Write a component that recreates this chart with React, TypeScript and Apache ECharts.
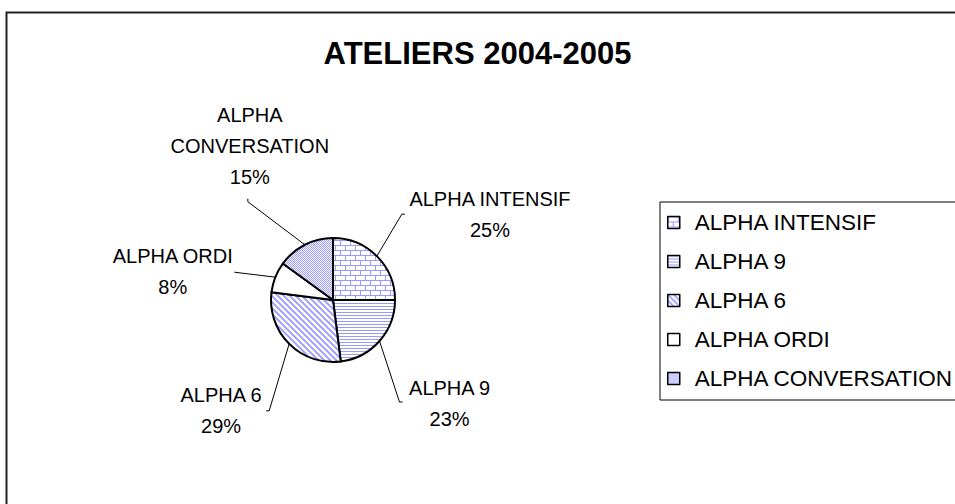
import React, { useEffect, useRef } from "react";
import * as echarts from "echarts";

// ---- data ----
const categories = ["ALPHA INTENSIF", "ALPHA 9", "ALPHA 6", "ALPHA ORDI", "ALPHA CONVERSATION"];
const labelTexts = ["ALPHA INTENSIF", "ALPHA 9", "ALPHA 6", "ALPHA ORDI", "ALPHA\nCONVERSATION"];
const values = [25, 23, 29, 8, 15];
const titleText = "ATELIERS 2004-2005";

// ---- styling ----
const FONT = "'Liberation Sans', Arial, sans-serif";
const HATCH = "#9999FF";

function svgUrl(w: number, h: number, body: string) {
  const s = `<svg xmlns='http://www.w3.org/2000/svg' width='${w}' height='${h}' shape-rendering='crispEdges'><rect width='${w}' height='${h}' fill='white'/>${body}</svg>`;
  return "data:image/svg+xml;charset=utf-8," + encodeURIComponent(s);
}
function pattern(w: number, h: number, body: string) {
  return { image: svgUrl(w, h, body), repeat: "repeat", imageWidth: w, imageHeight: h } as any;
}

const fills = [
  // brick
  pattern(10, 10,
    `<rect x='0' y='0' width='10' height='1' fill='${HATCH}'/><rect x='0' y='5' width='10' height='1' fill='${HATCH}'/>` +
    `<rect x='0' y='0' width='1' height='5' fill='${HATCH}'/><rect x='5' y='5' width='1' height='5' fill='${HATCH}'/>`),
  // horizontal lines
  pattern(4, 3, `<rect x='0' y='0' width='4' height='1' fill='${HATCH}'/>`),
  // diagonal lines
  null,
  "#FFFFFF",
  // fine checker
  pattern(2, 2, `<rect x='0' y='0' width='1' height='1' fill='${HATCH}'/><rect x='1' y='1' width='1' height='1' fill='${HATCH}'/>`),
] as any[];
fills[2] = {
  image:
    "data:image/svg+xml;charset=utf-8," +
    encodeURIComponent(
      `<svg xmlns='http://www.w3.org/2000/svg' width='6' height='6'><rect width='6' height='6' fill='white'/>` +
        `<path d='M-1,-1 L7,7 M-1,5 L1,7 M5,-1 L7,1' stroke='${HATCH}' stroke-width='1.8' fill='none'/></svg>`
    ),
  repeat: "repeat",
  imageWidth: 6,
  imageHeight: 6,
};

// label placement: line end offset from arc point, label side, gap, vertical shift
const LABEL_LAYOUT = [
  { dx: 25, dy: -42, side: "right", gap: 4, vy: 0, tick: [3, 0] },
  { dx: 20, dy: 61, side: "right", gap: 6, vy: 1, tick: [3, 0] },
  { dx: -20, dy: 67, side: "left", gap: 4, vy: 0, tick: [-3, 0] },
  { dx: -41, dy: -5, side: "left", gap: 1, vy: -1, tick: [0, 0] },
  { dx: -57, dy: -43, side: "top", gap: 2, vy: 0, tick: [0, -3] },
];

export default function App() {
  const ref = useRef<HTMLDivElement>(null);
  useEffect(() => {
    if (!ref.current) return;
    const chart = echarts.init(ref.current, undefined, { renderer: "svg" });
    const option: any = {
      animation: false,
      backgroundColor: "#FFFFFF",
      title: {
        text: titleText,
        left: "center",
        top: 33,
        textStyle: { fontFamily: FONT, fontSize: 31, fontWeight: "bold", color: "#000" },
      },
      legend: {
        orient: "vertical",
        left: 660,
        top: 202,
        padding: [9, 60, 10, 7],
        itemGap: 16,
        itemWidth: 12,
        itemHeight: 12,
        icon: "rect",
        borderColor: "#000",
        borderWidth: 1,
        data: categories,
        itemStyle: { borderColor: "#000", borderWidth: 1.5 },
        textStyle: {
          fontFamily: FONT,
          fontSize: 22.5,
          color: "#000",
          lineHeight: 22,
          padding: [0, 0, 0, 10],
        },
      },
      graphic: [
        {
          type: "rect",
          left: 4,
          top: 10,
          shape: { x: 0, y: 0, width: 1000, height: 600 },
          style: { fill: "none", stroke: "#222", lineWidth: 2 },
          silent: true,
          z: -10,
        },
      ],
      series: [
        {
          type: "pie",
          center: [333, 300],
          radius: 62,
          startAngle: 90,
          clockwise: true,
          avoidLabelOverlap: false,
          itemStyle: { borderColor: "#000", borderWidth: 2 },
          label: {
            show: true,
            position: "outside",
            fontFamily: FONT,
            fontSize: 20,
            lineHeight: 31,
            color: "#000",
            formatter: (p: any) => `${labelTexts[p.dataIndex]}\n${Math.round(p.percent)}%`,
          },
          labelLine: {
            show: true,
            length: 20,
            length2: 5,
            lineStyle: { color: "#000", width: 1 },
          },
          labelLayout: (params: any) => {
            const cfg = LABEL_LAYOUT[params.dataIndex];
            const pts = params.labelLinePoints;
            if (!cfg || !pts) return {};
            const p = pts[0];
            const e = [p[0] + cfg.dx, p[1] + cfg.dy];
            const t = [e[0] + cfg.tick[0], e[1] + cfg.tick[1]];
            const w = params.labelRect.width;
            const h = params.labelRect.height;
            let x = 0;
            let y = 0;
            if (cfg.side === "right") {
              x = t[0] + cfg.gap + w / 2;
              y = e[1] + cfg.vy;
            } else if (cfg.side === "left") {
              x = t[0] - cfg.gap - w / 2;
              y = e[1] + cfg.vy;
            } else {
              x = e[0] + cfg.gap;
              y = t[1] - h / 2 - 6;
            }
            return {
              x,
              y,
              align: "center",
              verticalAlign: "middle",
              labelLinePoints: [p, e, t],
            };
          },
          data: categories.map((name, i) => ({
            name,
            value: values[i],
            itemStyle: { color: fills[i] },
          })),
        },
      ],
    };
    chart.setOption(option);
    return () => chart.dispose();
  }, []);
  return (
    <div
      ref={ref}
      style={{ position: "absolute", left: 0, top: 0, width: 955, height: 504 }}
    />
  );
}
